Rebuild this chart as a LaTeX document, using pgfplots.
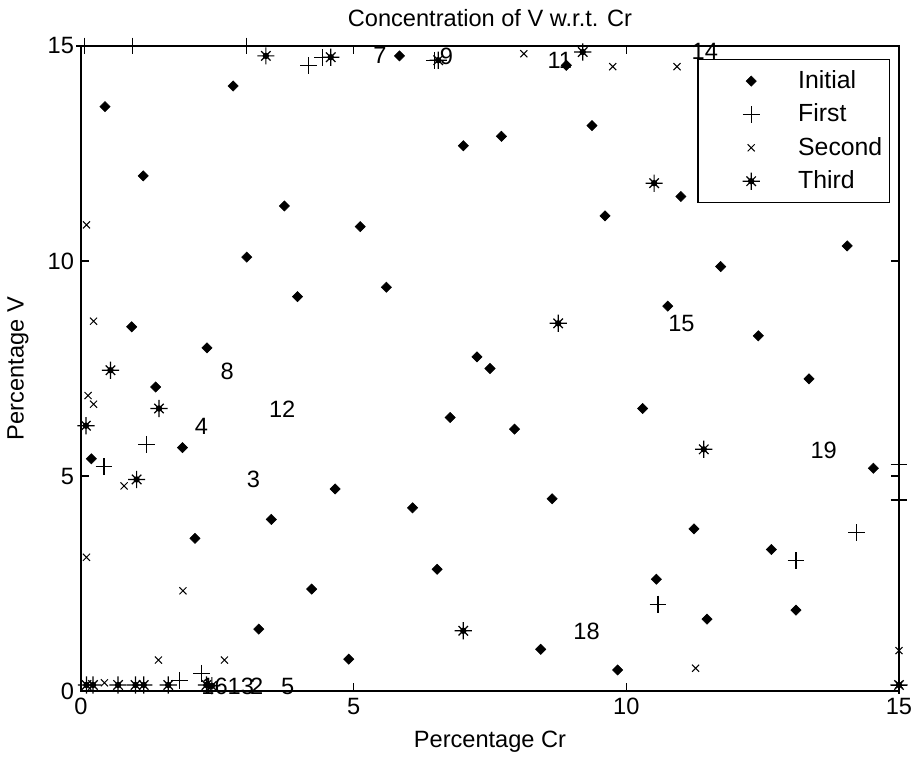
\documentclass[border=0pt]{standalone}
\usepackage{fontspec}
\setmainfont{Liberation Sans}
\usepackage{pgfplots}
\pgfplotsset{compat=1.18}
\usetikzlibrary{calc}

\pgfdeclareplotmark{mast}{%
  \pgfpathmoveto{\pgfqpoint{-\pgfplotmarksize}{0pt}}%
  \pgfpathlineto{\pgfqpoint{\pgfplotmarksize}{0pt}}%
  \pgfpathmoveto{\pgfqpoint{0pt}{-\pgfplotmarksize}}%
  \pgfpathlineto{\pgfqpoint{0pt}{\pgfplotmarksize}}%
  \pgfpathmoveto{\pgfqpoint{-0.55\pgfplotmarksize}{-0.55\pgfplotmarksize}}%
  \pgfpathlineto{\pgfqpoint{0.55\pgfplotmarksize}{0.55\pgfplotmarksize}}%
  \pgfpathmoveto{\pgfqpoint{-0.55\pgfplotmarksize}{0.55\pgfplotmarksize}}%
  \pgfpathlineto{\pgfqpoint{0.55\pgfplotmarksize}{-0.55\pgfplotmarksize}}%
  \pgfusepathqstroke
  \pgfpathcircle{\pgfpointorigin}{0.3\pgfplotmarksize}\pgfusepathqfillstroke
}

\begin{document}
\begin{tikzpicture}
\begin{axis}[
  scale only axis, width=409pt, height=322.5pt,
  xmin=0, xmax=15, ymin=0, ymax=15,
  xtick={0,5,10,15}, ytick={0,5,10,15},
  tick align=inside, major tick length=4pt,
  xtick pos=both, ytick pos=both,
  axis line style={line width=0.9pt},
  every tick/.style={black, line width=0.8pt},
  clip=false,
  font=\fontsize{11.8}{13.5}\selectfont,
  tick label style={font=\fontsize{11.8}{13.5}\selectfont},
  /pgf/number format/assume math mode=true,
  title={Concentration of V w.r.t. Cr},
  title style={at={(axis description cs:0.5,1.024)}, anchor=center, yshift=0pt, inner sep=0pt},
  xlabel={Percentage Cr},
  xlabel style={at={(axis description cs:0.5,-0.079)}, anchor=center, inner sep=0pt},
  ylabel={Percentage V},
  ylabel style={at={(axis description cs:-0.077,0.5)}, anchor=center, rotate=0, inner sep=0pt},
  legend style={at={(0.989,0.98)}, anchor=north east, draw=black, line width=0.7pt,
    fill=white, inner xsep=2pt, inner ysep=4pt, row sep=3.2pt,
    nodes={inner sep=1.5pt, text depth=0.15em},
    font=\fontsize{12.4}{14}\selectfont},
  legend cell align=left,
  legend image code/.code={\path[draw=none,fill=none] (-24.5pt,-4pt) rectangle (22pt,4pt);
    \draw[only marks,#1] plot coordinates {(0pt,0pt)};},
]
\coordinate (SW) at (rel axis cs:0,0);
\coordinate (NE) at (rel axis cs:1,1);

\addplot[only marks, mark=square*, mark size=1.8pt, mark options={rotate=45, fill=black, draw=black, line width=0.3pt}] coordinates {
(0.44,13.59) (1.14,11.98) (2.79,14.07) (5.84,14.77) (8.90,14.55) (7.01,12.68)
(7.71,12.90) (9.37,13.15) (11.00,11.50) (14.05,10.35) (11.73,9.87) (10.76,8.95)
(12.42,8.26) (13.35,7.26) (3.73,11.28) (3.04,10.09) (5.12,10.80) (3.97,9.17)
(0.93,8.47) (2.31,7.98) (1.37,7.07) (9.61,11.05) (5.60,9.39) (7.26,7.77)
(7.50,7.50) (1.86,5.66) (0.19,5.40) (4.66,4.70) (3.49,3.99) (2.09,3.55)
(6.77,6.36) (7.95,6.09) (10.30,6.57) (6.08,4.26) (8.64,4.47) (6.53,2.83)
(14.53,5.18) (11.24,3.77) (12.66,3.29) (10.55,2.60) (11.48,1.67) (13.11,1.88)
(8.43,0.97) (9.84,0.49) (4.91,0.74) (4.23,2.37) (3.26,1.44)
};
\addlegendentry{Initial}

\addplot[only marks, mark=+, mark size=4.2pt, line width=0.6pt] coordinates {
(0.07,15) (0.95,15) (3.03,15) (4.17,14.54) (4.43,14.74) (6.48,14.67)
(1.20,5.74) (0.42,5.22) (15.0,5.27) (15.0,4.44) (14.22,3.68) (13.11,3.03)
(10.58,2.02) (1.81,0.25) (2.21,0.41) (15.0,0.12)
};
\addlegendentry{First}

\addplot[only marks, mark=x, mark size=2.5pt, line width=0.5pt] coordinates {
(8.12,14.82) (9.75,14.52) (10.93,14.52) (0.10,10.84) (0.23,8.60) (0.13,6.87)
(0.23,6.67) (0.79,4.77) (0.10,3.11) (1.87,2.33) (1.42,0.72) (2.63,0.72)
(11.27,0.53) (15.0,0.94) (0.43,0.19) (15.0,0.15)
};
\addlegendentry{Second}

\addplot[only marks, mark=mast, mark size=4.3pt, line width=0.6pt, mark options={fill=black}] coordinates {
(3.39,14.77) (4.58,14.74) (6.55,14.67) (9.20,14.86) (10.51,11.81) (0.54,7.46)
(1.43,6.57) (0.09,6.17) (1.02,4.92) (8.75,8.55) (11.42,5.62) (7.01,1.40)
(15.0,0.14) (0.10,0.14) (0.22,0.14) (0.68,0.14) (1.00,0.14) (1.15,0.14)
(1.60,0.14) (2.30,0.14) (2.40,0.12)
};
\addlegendentry{Third}

\node at (axis cs:5.48,14.79) {7};
\node at (axis cs:6.70,14.75) {9};
\node at (axis cs:8.78,14.67) {11};
\node at (axis cs:11.44,14.87) {14};
\node at (axis cs:2.68,7.43) {8};
\node at (axis cs:3.69,6.55) {12};
\node at (axis cs:2.21,6.15) {4};
\node at (axis cs:3.16,4.91) {3};
\node at (axis cs:11.01,8.55) {15};
\node at (axis cs:13.62,5.60) {19};
\node at (axis cs:9.27,1.38) {18};
\node at (axis cs:3.79,0.10) {5};
\node at (axis cs:2.45,0.10) {16};
\node at (axis cs:2.93,0.10) {13};
\node at (axis cs:3.22,0.10) {2};
\end{axis}
\pgfresetboundingbox
\path ($(SW)+(-40.5pt,-35pt)$) rectangle ($(NE)+(9pt,23pt)$);
\end{tikzpicture}
\end{document}
